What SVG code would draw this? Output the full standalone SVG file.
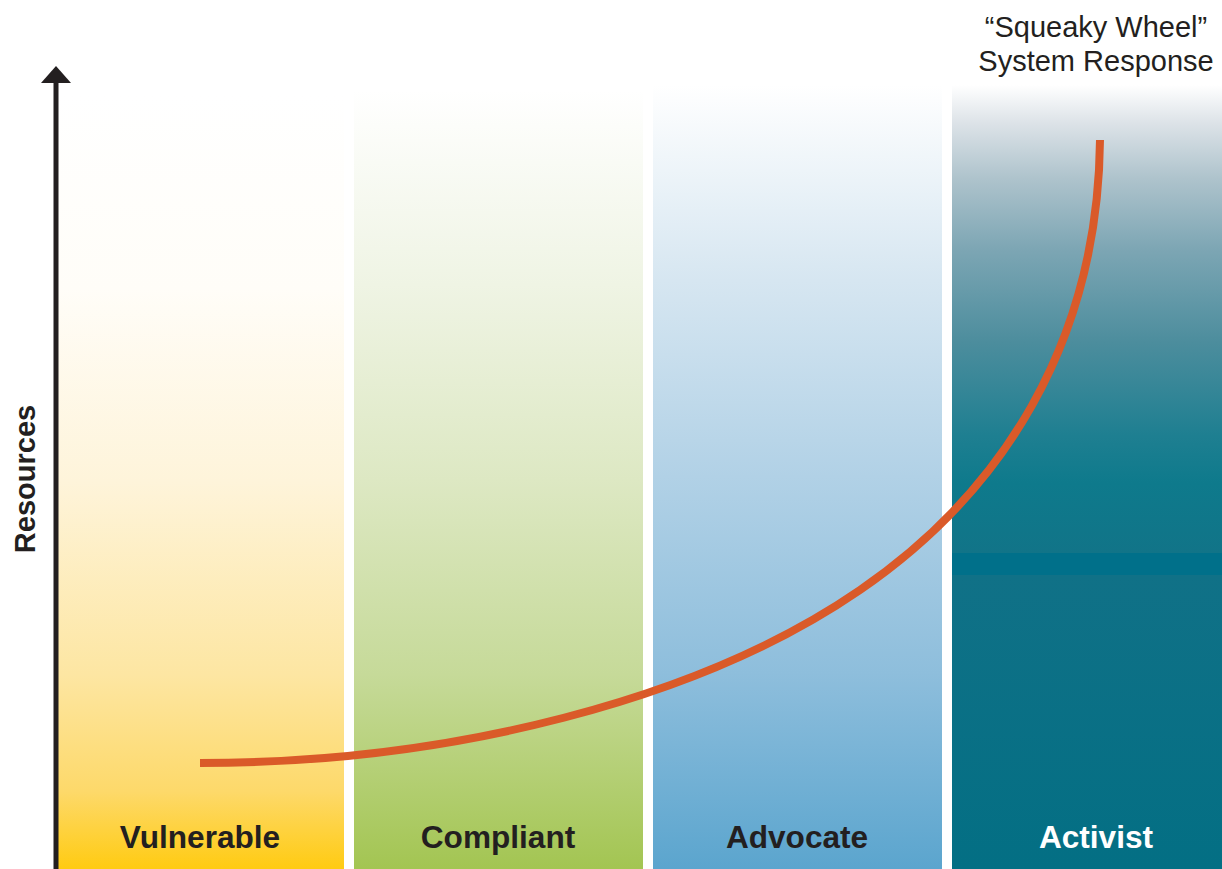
<svg xmlns="http://www.w3.org/2000/svg" width="1222" height="869" viewBox="0 0 1222 869">
  <style>
    .lbl { font-family: "Liberation Sans", Arial, sans-serif; font-weight: bold; font-size: 31.6px; text-anchor: middle; fill: #231F20; }
    .note { font-family: "Liberation Sans", Arial, sans-serif; font-size: 29px; text-anchor: middle; fill: #231F20; }
    .axis { stroke: #231F20; stroke-width: 5; fill: none; }
    .curve { stroke: #DA5A29; stroke-width: 8; fill: none; }
  </style>
  <defs>
    <linearGradient id="gY" gradientUnits="userSpaceOnUse" x1="0" y1="95" x2="0" y2="869">
      <stop offset="0" stop-color="#FFFFFF"/>
      <stop offset="0.25" stop-color="#FFFDF8"/>
      <stop offset="0.5" stop-color="#FEF4DA"/>
      <stop offset="0.75" stop-color="#FDE6A2"/>
      <stop offset="0.9" stop-color="#FDD96A"/>
      <stop offset="1" stop-color="#FFCB12"/>
    </linearGradient>
    <linearGradient id="gG" gradientUnits="userSpaceOnUse" x1="0" y1="90" x2="0" y2="869">
      <stop offset="0" stop-color="#FFFFFF"/>
      <stop offset="0.25" stop-color="#EFF4E4"/>
      <stop offset="0.5" stop-color="#DDE8C3"/>
      <stop offset="0.75" stop-color="#C6DA99"/>
      <stop offset="1" stop-color="#A3C552"/>
    </linearGradient>
    <linearGradient id="gB" gradientUnits="userSpaceOnUse" x1="0" y1="85" x2="0" y2="869">
      <stop offset="0" stop-color="#FFFFFF"/>
      <stop offset="0.25" stop-color="#D6E6F1"/>
      <stop offset="0.5" stop-color="#B1D1E6"/>
      <stop offset="0.75" stop-color="#8EBEDC"/>
      <stop offset="1" stop-color="#5BA5CE"/>
    </linearGradient>
    <linearGradient id="gT" gradientUnits="userSpaceOnUse" x1="0" y1="85" x2="0" y2="553">
      <stop offset="0" stop-color="#FFFFFF"/>
      <stop offset="0.08" stop-color="#DDE3E8"/>
      <stop offset="0.2" stop-color="#AEC3CC"/>
      <stop offset="0.35" stop-color="#7DA6B4"/>
      <stop offset="0.55" stop-color="#4C8D9D"/>
      <stop offset="0.75" stop-color="#1E7F91"/>
      <stop offset="0.85" stop-color="#0E7A8C"/>
      <stop offset="1" stop-color="#117488"/>
    </linearGradient>
    <linearGradient id="gT2" gradientUnits="userSpaceOnUse" x1="0" y1="575" x2="0" y2="869">
      <stop offset="0" stop-color="#107187"/>
      <stop offset="1" stop-color="#036F84"/>
    </linearGradient>
  </defs>

  <rect width="1222" height="869" fill="#FFFFFF"/>

  <g id="band-vulnerable">
    <rect x="57" y="95" width="287" height="774" fill="url(#gY)"/>
    <text class="lbl" x="200" y="848">Vulnerable</text>
  </g>
  <g id="band-compliant">
    <rect x="354" y="90" width="289" height="779" fill="url(#gG)"/>
    <text class="lbl" x="498" y="848">Compliant</text>
  </g>
  <g id="band-advocate">
    <rect x="653" y="85" width="289" height="784" fill="url(#gB)"/>
    <text class="lbl" x="797" y="848">Advocate</text>
  </g>
  <g id="band-activist">
    <rect x="952" y="85" width="270" height="468" fill="url(#gT)"/>
    <rect x="952" y="553" width="270" height="22" fill="#00708A"/>
    <rect x="952" y="575" width="270" height="294" fill="url(#gT2)"/>
    <text class="lbl" x="1096" y="848" style="fill:#FFFFFF">Activist</text>
  </g>

  <g id="axis">
    <line class="axis" x1="56" y1="80" x2="56" y2="869"/>
    <polygon points="56,66 41,83 71,83" fill="#231F20"/>
    <text x="35" y="479" transform="rotate(-90 35 479)" style="font-family: 'Liberation Sans', Arial, sans-serif; font-weight: bold; font-size: 29px; text-anchor: middle; fill: #231F20;">Resources</text>
  </g>

  <g id="connectors">
    <path class="curve" d="M200,763 C450,763 700,700 860,590 C1000,494 1098,345 1100,140"/>
  </g>

  <g id="note-squeaky">
    <text class="note" x="1096" y="37">“Squeaky Wheel”</text>
    <text class="note" x="1096" y="71">System Response</text>
  </g>
</svg>
